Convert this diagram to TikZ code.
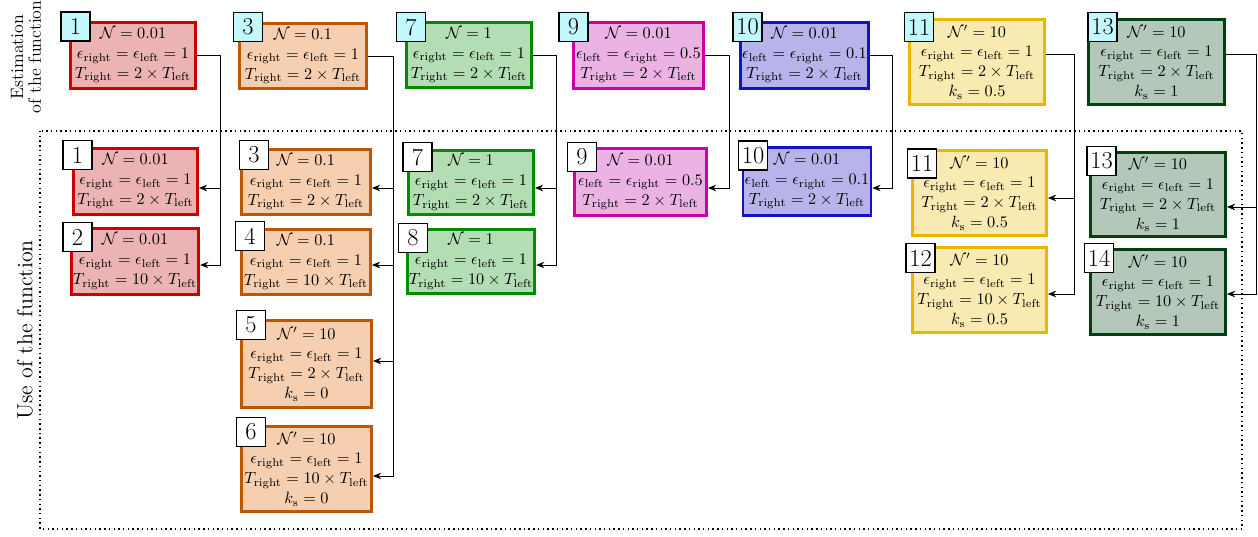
\documentclass[tikz,border=0pt]{standalone}
\usetikzlibrary{arrows.meta,calc}
\definecolor{redB}{RGB}{204,0,0}\definecolor{redF}{RGB}{235,179,179}
\definecolor{orB}{RGB}{191,87,0}\definecolor{orF}{RGB}{245,207,176}
\definecolor{grB}{RGB}{0,140,0}\definecolor{grF}{RGB}{179,221,179}
\definecolor{maB}{RGB}{204,0,170}\definecolor{maF}{RGB}{235,179,228}
\definecolor{blB}{RGB}{20,20,190}\definecolor{blF}{RGB}{184,179,235}
\definecolor{yeB}{RGB}{232,184,0}\definecolor{yeF}{RGB}{248,234,176}
\definecolor{dgB}{RGB}{0,64,16}\definecolor{dgF}{RGB}{179,200,184}
\definecolor{labC}{RGB}{196,248,255}
\newcommand\myN[1]{$\mathcal{N}=#1$}
\newcommand\myNp{$\mathcal{N}'=10$}
\newcommand\myE{$\epsilon_{\mathrm{right}}=\epsilon_{\mathrm{left}}=1$}
\newcommand\myEl[1]{$\epsilon_{\mathrm{left}}=\epsilon_{\mathrm{right}}=#1$}
\newcommand\myT[1]{$T_{\mathrm{right}}=#1\times T_{\mathrm{left}}$}
\newcommand\myK[1]{$k_{\mathrm{s}}=#1$}
\begin{document}
\begin{tikzpicture}[x=0.615pt,y=-0.615pt,
 bx/.style 2 args={draw, line width=1.8pt, inner sep=1pt, align=center,
   font=\fontsize{10}{12.2}\selectfont,
   minimum width=#1*0.615pt-1.8pt, minimum height=#2*0.615pt-1.8pt},
 rd/.style={draw=redB, fill=redF}, orr/.style={draw=orB, fill=orF},
 gr/.style={draw=grB, fill=grF}, ma/.style={draw=maB, fill=maF},
 bl/.style={draw=blB, fill=blF}, ye/.style={draw=yeB, fill=yeF},
 dg/.style={draw=dgB, fill=dgF},
 lab/.style={draw, line width=0.8pt, font=\fontsize{15}{15}\selectfont, inner sep=1pt, minimum width=17.8pt, minimum height=17.8pt},
 toplab/.style={lab, fill=labC},
 botlab/.style={lab, fill=white},
 conn/.style={line width=0.5pt},
 arr/.style={conn, -{Stealth[length=5pt,width=4pt]}}]
\useasboundingbox (0,0) rectangle (1258,537);

% frame
\draw[dotted, line width=0.9pt] (40,131) rectangle (1242,529);

% side texts
\node[rotate=90, align=center, font=\fontsize{11}{11}\selectfont] (est) at (26,57) {Estimation\\of the function};
\node[rotate=90, font=\fontsize{13.5}{15}\selectfont] (use) at (25,330) {Use of the function};

% top row
\node[bx={128}{69}, rd] (t1) at (133,55.5) {\myN{0.01}\\\myE\\\myT{2}};
\node[bx={130}{68}, orr] (t3) at (303,56) {\myN{0.1}\\\myE\\\myT{2}};
\node[bx={128}{68}, gr] (t7) at (469,55) {\myN{1}\\\myE\\\myT{2}};
\node[bx={133}{69}, ma] (t9) at (638.5,55.5) {\myN{0.01}\\\myEl{0.5}\\\myT{2}};
\node[bx={127}{69}, bl] (t10) at (804.5,55.5) {\myN{0.01}\\\myEl{0.1}\\\myT{2}};
\node[bx={138}{88}, ye] (t11) at (977,62) {\myNp\\\myE\\\myT{2}\\\myK{0.5}};
\node[bx={139}{88}, dg] (t13) at (1156.5,62) {\myNp\\\myE\\\myT{2}\\\myK{1}};

% bottom
\node[bx={127}{69}, rd] (b1) at (135.5,181.5) {\myN{0.01}\\\myE\\\myT{2}};
\node[bx={128}{69}, rd] (b2) at (135,261.5) {\myN{0.01}\\\myE\\\myT{10}};
\node[bx={132}{68}, orr] (b3) at (306,182) {\myN{0.1}\\\myE\\\myT{2}};
\node[bx={132}{68}, orr] (b4) at (306,262) {\myN{0.1}\\\myE\\\myT{10}};
\node[bx={133}{90}, orr] (b5) at (306.5,364) {\myNp\\\myE\\\myT{2}\\\myK{0}};
\node[bx={133}{88}, orr] (b6) at (306.5,469) {\myNp\\\myE\\\myT{10}\\\myK{0}};
\node[bx={128}{67}, gr] (b7) at (471,182.5) {\myN{1}\\\myE\\\myT{2}};
\node[bx={128}{67}, gr] (b8) at (471,261.5) {\myN{1}\\\myE\\\myT{10}};
\node[bx={135}{70}, ma] (b9) at (640.5,182) {\myN{0.01}\\\myEl{0.5}\\\myT{2}};
\node[bx={128}{71}, bl] (b10) at (807,181.5) {\myN{0.01}\\\myEl{0.1}\\\myT{2}};
\node[bx={137}{88}, ye] (b11) at (979.5,193) {\myNp\\\myE\\\myT{2}\\\myK{0.5}};
\node[bx={137}{88}, ye] (b12) at (979.5,290) {\myNp\\\myE\\\myT{10}\\\myK{0.5}};
\node[bx={138}{87}, dg] (b13) at (1158,194.5) {\myNp\\\myE\\\myT{2}\\\myK{1}};
\node[bx={138}{88}, dg] (b14) at (1158,292) {\myNp\\\myE\\\myT{10}\\\myK{1}};

% labels top
\node[toplab] (l1) at (75.5,26.5) {1};
\node[toplab] (l3) at (248,27) {3};
\node[toplab] (l7) at (411,27) {7};
\node[toplab] (l9) at (573.5,27) {9};
\node[toplab] (l10) at (747.5,27) {10};
\node[toplab] (l11) at (919,27) {11};
\node[toplab] (l13) at (1102.5,27) {13};
% labels bottom
\node[botlab] (m1) at (77.5,155) {1};
\node[botlab] (m2) at (77.5,237) {2};
\node[botlab] (m3) at (254,155) {3};
\node[botlab] (m4) at (250,236) {4};
\node[botlab] (m5) at (251,325) {5};
\node[botlab] (m6) at (251,432) {6};
\node[botlab] (m7) at (417.5,157) {7};
\node[botlab] (m8) at (413,238) {8};
\node[botlab] (m9) at (582,157) {9};
\node[botlab] (m10) at (753,155.5) {10};
\node[botlab] (m11) at (922,163.5) {11};
\node[botlab] (m12) at (920.5,258) {12};
\node[botlab] (m13) at (1101.5,161) {13};
\node[botlab] (m14) at (1099,258) {14};

% connector columns and arrow ends
\coordinate (v1) at (220,0);
\coordinate (v3) at (393,0);
\coordinate (v7) at (556,0);
\coordinate (v9) at (729,0);
\coordinate (v10) at (892,0);
\coordinate (v11) at (1074,0);
\coordinate (v13) at (1256.5,0);
\coordinate (e1) at (b1.east |- 0,188);
\coordinate (e2) at (b2.east |- 0,265);
\coordinate (e3) at (b3.east |- 0,188);
\coordinate (e4) at (b4.east |- 0,265);
\coordinate (e5) at (b5.east |- 0,361);
\coordinate (e6) at (b6.east |- 0,476);
\coordinate (e7) at (b7.east |- 0,188);
\coordinate (e8) at (b8.east |- 0,265);
\coordinate (e9) at (b9.east |- 0,188);
\coordinate (e10) at (b10.east |- 0,188);
\coordinate (e11) at (b11.east |- 0,198);
\coordinate (e12) at (b12.east |- 0,294);
\coordinate (e13) at (b13.east |- 0,207);
\coordinate (e14) at (b14.east |- 0,294);

\draw[arr] (t1.east) -| (v1 |- e2) -- (e2);
\draw[arr] (v1 |- e1) -- (e1);
\draw[arr] (t3.east) -| (v3 |- e6) -- (e6);
\draw[arr] (v3 |- e3) -- (e3);
\draw[arr] (v3 |- e4) -- (e4);
\draw[arr] (v3 |- e5) -- (e5);
\draw[arr] (t7.east) -| (v7 |- e8) -- (e8);
\draw[arr] (v7 |- e7) -- (e7);
\draw[arr] (t9.east) -| (v9 |- e9) -- (e9);
\draw[arr] (t10.east) -| (v10 |- e10) -- (e10);
\draw[arr] ([shift={(0,-8)}]t11.east) -| (v11 |- e12) -- (e12);
\draw[arr] (v11 |- e11) -- (e11);
\draw[arr] ([shift={(0,-8)}]t13.east) -| (v13 |- e14) -- (e14);
\draw[arr] (v13 |- e13) -- (e13);
\end{tikzpicture}
\end{document}
